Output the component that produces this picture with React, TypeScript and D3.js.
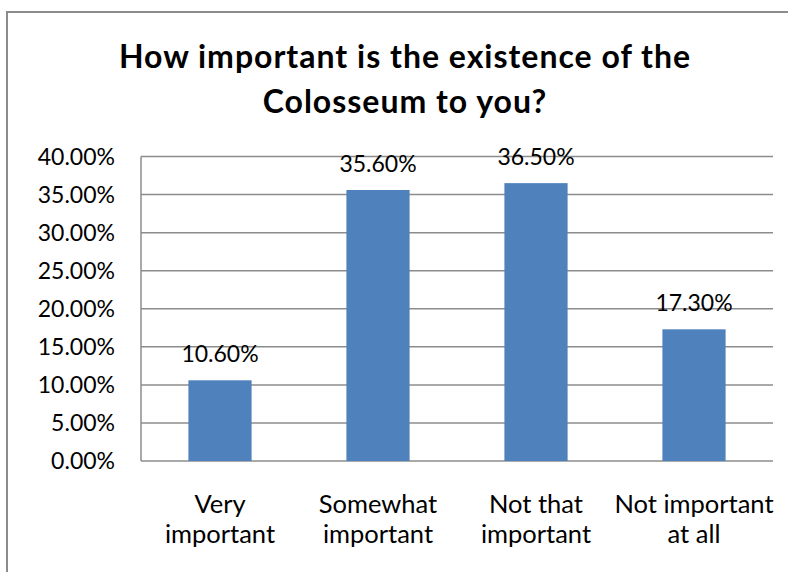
import { useEffect, useRef } from 'react';
import * as d3 from 'd3';

// données
const categories = ['Very important', 'Somewhat important', 'Not that important', 'Not important at all'];
const categoryLines = [['Very', 'important'], ['Somewhat', 'important'], ['Not that', 'important'], ['Not important', 'at all']];
const values = [10.6, 35.6, 36.5, 17.3];
const yTicks = [0, 5, 10, 15, 20, 25, 30, 35, 40];
const titleLines = ['How important is the existence of the', 'Colosseum to you?'];

export default function App() {
  const ref = useRef<SVGSVGElement>(null);

  useEffect(() => {
    if (!ref.current) return;
    const svg = d3.select(ref.current);
    svg.selectAll('*').remove();

    const W = 788;
    const H = 572;
    const plot = { left: 141, right: 773, top: 156.5, bottom: 461 };
    const font = 'Lato, "Open Sans", sans-serif';

    svg.append('rect').attr('width', W).attr('height', H).attr('fill', '#fff');

    // cadre du graphique (coupé à droite et en bas)
    svg.append('rect')
      .attr('x', 7).attr('y', 12)
      .attr('width', 800).attr('height', 600)
      .attr('fill', 'none')
      .attr('stroke', '#8c8c8c')
      .attr('stroke-width', 2);

    // titre
    svg.append('g')
      .selectAll('text')
      .data(titleLines)
      .enter()
      .append('text')
      .attr('x', 405)
      .attr('y', (d, i) => 68 + i * 45)
      .attr('text-anchor', 'middle')
      .style('font-family', font)
      .style('font-weight', 'bold')
      .style('font-size', '32px')
      .style('letter-spacing', '1px')
      .attr('fill', '#000')
      .text(d => d);

    const x = d3.scaleBand()
      .domain(categories)
      .range([plot.left, plot.right])
      .paddingInner(0.6)
      .paddingOuter(0.3);

    const y = d3.scaleLinear()
      .domain([0, 40])
      .range([plot.bottom, plot.top]);

    // grille
    svg.append('g')
      .selectAll('line')
      .data(yTicks)
      .enter()
      .append('line')
      .attr('x1', plot.left)
      .attr('x2', plot.right)
      .attr('y1', d => y(d))
      .attr('y2', d => y(d))
      .attr('stroke', '#8c8c8c')
      .attr('stroke-width', 1.5);

    // axe vertical
    svg.append('line')
      .attr('x1', plot.left).attr('x2', plot.left)
      .attr('y1', plot.top).attr('y2', plot.bottom)
      .attr('stroke', '#8c8c8c')
      .attr('stroke-width', 1.5);

    // étiquettes Y
    svg.append('g')
      .selectAll('text')
      .data(yTicks)
      .enter()
      .append('text')
      .attr('x', 115)
      .attr('y', d => y(d))
      .attr('dy', '0.36em')
      .attr('text-anchor', 'end')
      .style('font-family', font)
      .style('font-size', '23px')
      .attr('fill', '#000')
      .text(d => d.toFixed(2) + '%');

    // barres
    svg.append('g')
      .selectAll('rect')
      .data(values)
      .enter()
      .append('rect')
      .attr('x', (d, i) => x(categories[i]) as number)
      .attr('width', x.bandwidth())
      .attr('y', d => y(d))
      .attr('height', d => plot.bottom - y(d))
      .attr('fill', '#4F81BD');

    // valeurs
    svg.append('g')
      .selectAll('text')
      .data(values)
      .enter()
      .append('text')
      .attr('x', (d, i) => (x(categories[i]) as number) + x.bandwidth() / 2)
      .attr('y', d => y(d) - 18)
      .attr('text-anchor', 'middle')
      .style('font-family', font)
      .style('font-size', '23px')
      .attr('fill', '#000')
      .text(d => d.toFixed(2) + '%');

    // catégories
    const cat = svg.append('g')
      .selectAll('text')
      .data(categories)
      .enter()
      .append('text')
      .attr('x', d => (x(d) as number) + x.bandwidth() / 2)
      .attr('text-anchor', 'middle')
      .style('font-family', font)
      .style('font-size', '25.5px')
      .attr('fill', '#000');
    cat.selectAll('tspan')
      .data((d, i) => categoryLines[i])
      .enter()
      .append('tspan')
      .attr('x', function () { return (this.parentNode as SVGTextElement).getAttribute('x'); })
      .attr('y', (d, i) => 513 + i * 30)
      .text(d => d);
  }, []);

  return (
    <svg ref={ref} width={788} height={572} style={{ position: 'absolute', left: 0, top: 0, display: 'block' }} />
  );
}
